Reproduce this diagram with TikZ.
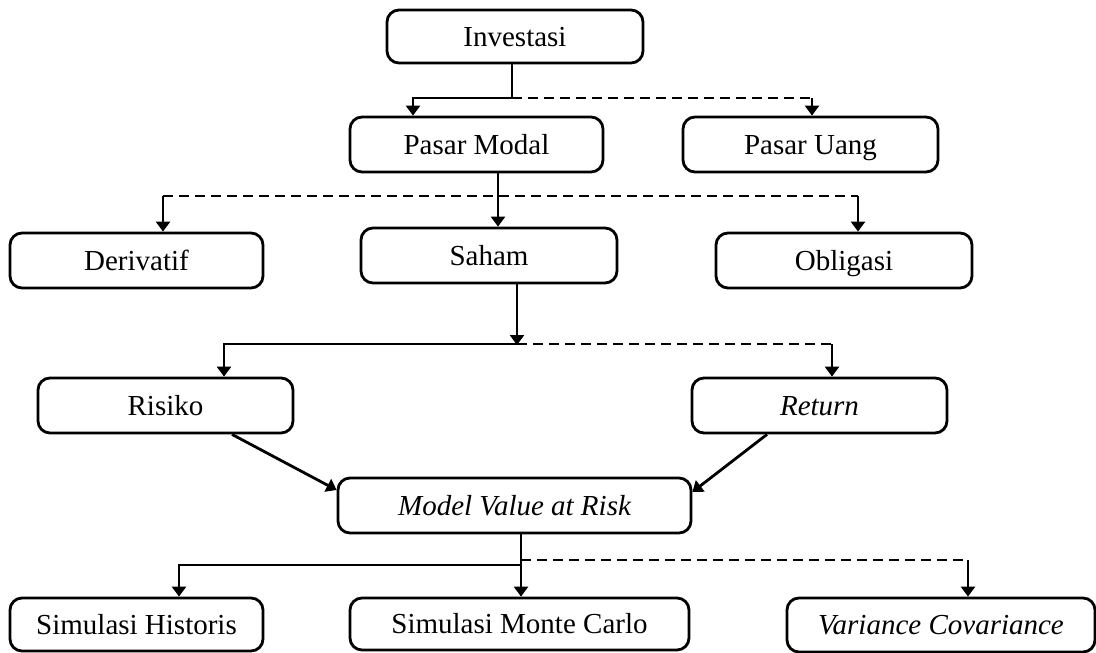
\documentclass[tikz,border=0pt]{standalone}
\usepackage{fontspec}
\setmainfont{Liberation Serif}
\usetikzlibrary{arrows.meta}
\begin{document}
\begin{tikzpicture}[x=1pt,y=-1pt,
  box/.style={draw, line width=2.8pt, rounded corners=12pt, inner sep=0pt,
    text height=19pt, text depth=0pt,
    minimum height=55pt, minimum width=#1, font=\fontsize{29}{34}\selectfont},
  box/.default=255pt,
  conn/.style={line width=2.8pt},
  arr/.style={line width=2.8pt, -{Triangle[width=14pt,length=10pt]}},
  dsh/.style={line width=2.8pt, dash pattern=on 10pt off 6pt}]
\useasboundingbox (0,0) rectangle (1096,653);
% nodes
\node[box=256pt, minimum height=53pt] (inv) at (515,36.5) {Investasi};
\node[box=253pt] (pm) at (476.5,144.5) {Pasar Modal};
\node[box=255pt] (pu) at (810.5,144.5) {Pasar Uang};
\node[box=253pt] (der) at (136.5,260.5) {Derivatif};
\node[box=256pt] (sah) at (489,255.5) {Saham};
\node[box=256pt] (obl) at (844,260.5) {Obligasi};
\node[box=255pt] (ris) at (165.5,405.5) {Risiko};
\node[box=255pt] (ret) at (819.5,405.5) {\itshape Return};
\node[box=353pt] (mod) at (514.5,505.5) {\itshape Model Value at Risk};
\node[box=253pt, minimum height=53pt] (sh) at (136.5,624.5) {Simulasi Historis};
\node[box=339pt, minimum height=52pt] (smc) at (519.5,624) {Simulasi Monte Carlo};
\node[box=308pt, minimum height=54pt] (vc) at (941,625) {\itshape Variance Covariance};
% helper coordinates
\coordinate (j1) at (512,98);
\coordinate (xa) at (413,0);
\coordinate (xb) at (812,0);
\coordinate (j2) at (498,196);
\coordinate (xc) at (163,0);
\coordinate (xd) at (858,0);
\coordinate (j3) at (517,344);
\coordinate (xe) at (224,0);
\coordinate (xf) at (832,0);
\coordinate (r1) at (232,0);
\coordinate (r2) at (0,490);
\coordinate (t1) at (767,0);
\coordinate (t2) at (0,492);
\coordinate (j4) at (521,565);
\coordinate (j5) at (521,560);
\coordinate (xg) at (179,0);
\coordinate (xh) at (968,0);
% Investasi
\draw[conn] (inv.south -| j1) -- (j1);
\draw[arr] (j1) -| (pm.north -| xa);
\draw[dsh] (j1) -- (j1 -| xb);
\draw[arr] (j1 -| xb) -- (pu.north -| xb);
% Pasar Modal
\draw[dsh] (j2 -| xc) -- (j2 -| xd);
\draw[arr] (pm.south -| j2) -- (sah.north -| j2);
\draw[arr] (j2 -| xc) -- (der.north -| xc);
\draw[arr] (j2 -| xd) -- (obl.north -| xd);
% Saham
\draw[arr] (sah.south -| j3) -- ([yshift=-1pt]j3);
\draw[arr] (j3) -| (ris.north -| xe);
\draw[dsh] (j3) -- (j3 -| xf);
\draw[arr] (j3 -| xf) -- (ret.north -| xf);
% Risiko / Return to Model
\draw[arr] (ris.south -| r1) -- (mod.west |- r2);
\draw[arr] (ret.south -| t1) -- (mod.east |- t2);
% Model
\draw[arr] (mod.south -| j4) -- (smc.north -| j4);
\draw[arr] (j4) -| (sh.north -| xg);
\draw[dsh] (j5) -- (j5 -| xh);
\draw[arr] (j5 -| xh) -- (vc.north -| xh);
\end{tikzpicture}
\end{document}
